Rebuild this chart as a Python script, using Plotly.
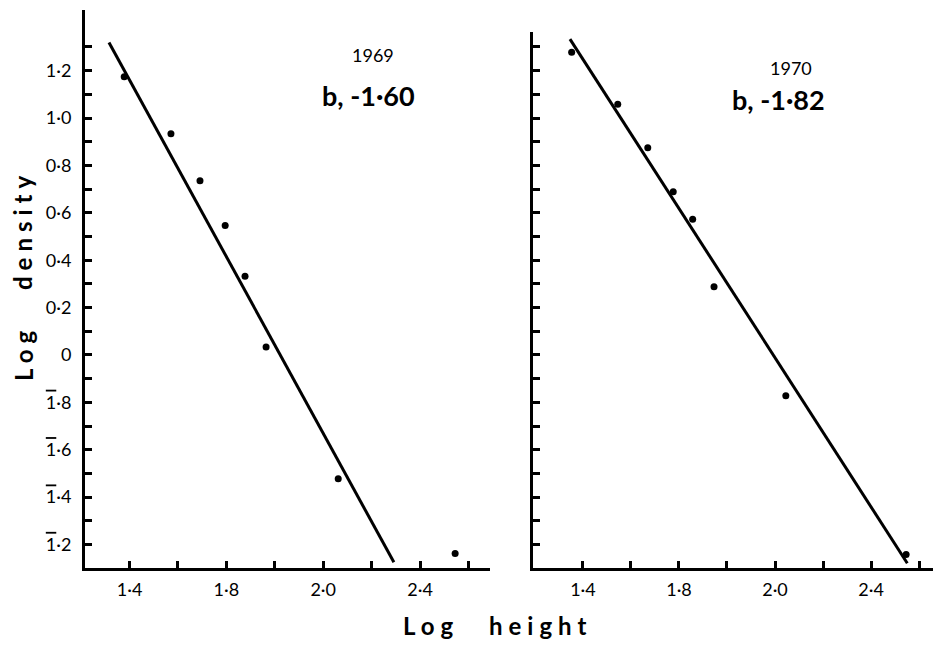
import plotly.graph_objects as go

# ---- data ----
h1969 = [1.378, 1.571, 1.691, 1.795, 1.877, 1.964, 2.262, 2.745]
d1969 = [1.174, 0.934, 0.735, 0.547, 0.332, 0.034, -0.522, -0.838]
fit1969_x = [1.315, 2.492]
fit1969_y = [1.319, -0.875]

h1970 = [1.353, 1.545, 1.670, 1.776, 1.857, 1.946, 2.245, 2.746]
d1970 = [1.278, 1.058, 0.874, 0.689, 0.573, 0.288, -0.172, -0.842]
fit1970_x = [1.346, 2.751]
fit1970_y = [1.333, -0.879]

x_tick_vals = [1.4, 1.6, 1.8, 2.0, 2.2, 2.4, 2.6, 2.8]
x_tick_text = ["1·4", "", "1·8", "", "2·0", "", "2·4", ""]

BAR1 = "<span style='text-decoration:overline'>1</span>"
y_tick_vals = [1.3, 1.2, 1.1, 1.0, 0.9, 0.8, 0.7, 0.6, 0.5, 0.4, 0.3, 0.2, 0.1, 0.0,
               -0.1, -0.2, -0.3, -0.4, -0.5, -0.6, -0.7, -0.8]
y_tick_text = ["", "1·2", "", "1·0", "", "0·8", "", "0·6", "", "0·4", "", "0·2", "", "0",
               "", BAR1 + "·8", "", BAR1 + "·6", "", BAR1 + "·4", "", BAR1 + "·2"]

FONT = "Lato"
TICKFONT = "Lato"
fig = go.Figure()

for xs, ys, fx, fy, xa, ya in [
    (h1969, d1969, fit1969_x, fit1969_y, "x", "y"),
    (h1970, d1970, fit1970_x, fit1970_y, "x2", "y2"),
]:
    fig.add_trace(go.Scatter(x=fx, y=fy, mode="lines", xaxis=xa, yaxis=ya,
                             line=dict(color="black", width=3), showlegend=False,
                             cliponaxis=False, hoverinfo="skip"))
    fig.add_trace(go.Scatter(x=xs, y=ys, mode="markers", xaxis=xa, yaxis=ya,
                             marker=dict(color="black", size=7), showlegend=False,
                             cliponaxis=False))

axis_common = dict(showgrid=False, zeroline=False, showline=True, linecolor="black",
                   linewidth=3, ticks="inside", tickcolor="black", tickwidth=3,
                   ticklen=7, tickfont=dict(family=TICKFONT, size=18, color="black"))

W, H = 933, 645
L, R, T, B = 85, 0, 10, 77
pw, ph = W - L - R, H - T - B

y_lo = -0.899
fig.update_layout(
    width=W, height=H,
    margin=dict(l=L, r=R, t=T, b=B),
    paper_bgcolor="white", plot_bgcolor="white",
    xaxis=dict(domain=[0, 0.4776], range=[1.216, 2.889], anchor="y",
               tickvals=x_tick_vals, ticktext=x_tick_text, ticklabelstandoff=3,
               **axis_common),
    yaxis=dict(domain=[0, 1], range=[y_lo, 1.456], anchor="x",
               tickvals=y_tick_vals, ticktext=y_tick_text, ticklabelstandoff=7,
               **axis_common),
    xaxis2=dict(domain=[0.5283, 1], range=[1.192, 2.858], anchor="y2",
                tickvals=x_tick_vals, ticktext=x_tick_text, ticklabelstandoff=3,
                **axis_common),
    yaxis2=dict(domain=[0, 0.9606], range=[y_lo, 1.363], anchor="x2",
                tickvals=y_tick_vals, showticklabels=False,
                **axis_common),
)

def px2paper(x, y):
    return (x - L) / pw, (H - B - y) / ph

SP = "<span style='letter-spacing:6px'>{}</span>"
annotations = [
    dict(text="1969", x=373, y=55, size=18, weight=400, angle=0),
    dict(text="b, -1·60", x=368, y=95, size=27, weight=700, angle=0),
    dict(text="1970", x=791, y=68, size=18, weight=400, angle=0),
    dict(text="b, -1·82", x=778, y=100, size=27, weight=700, angle=0),
    dict(text=SP.format("Log"), x=431, y=625, size=24, weight=700, angle=0),
    dict(text=SP.format("height"), x=540, y=625, size=24, weight=700, angle=0),
    dict(text=SP.format("density"), x=23, y=230, size=24, weight=700, angle=-90),
    dict(text=SP.format("Log"), x=23, y=353, size=24, weight=700, angle=-90),
]
for a in annotations:
    px, py = px2paper(a["x"], a["y"])
    fig.add_annotation(text=a["text"], x=px, y=py, xref="paper", yref="paper",
                       xanchor="center", yanchor="middle", showarrow=False,
                       textangle=a["angle"],
                       font=dict(family=FONT, size=a["size"], color="black",
                                 weight=a["weight"]))

fig.write_html("out.html", config={"displayModeBar": False},
               post_script="document.body.style.margin='0';document.body.style.overflow='hidden';")
